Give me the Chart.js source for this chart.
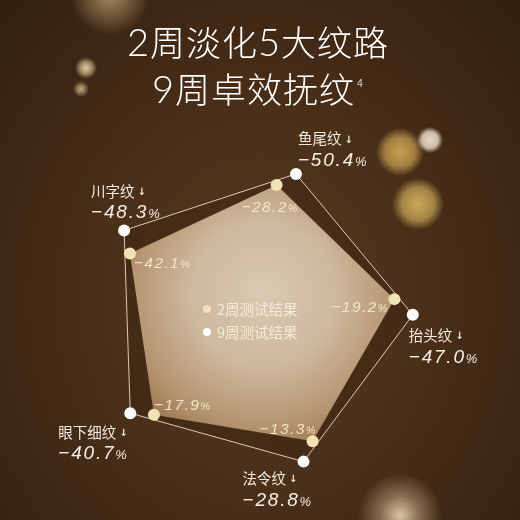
<!DOCTYPE html>
<html>
<head>
<meta charset="utf-8">
<script src="https://cdn.jsdelivr.net/npm/chart.js@4"></script>
<style>
  html, body { margin: 0; padding: 0; }
  #stage {
    position: relative; width: 520px; height: 520px; overflow: hidden;
    background:
      radial-gradient(circle at 110px -5px, rgba(255,225,160,0.55) 0, rgba(255,225,160,0.25) 22px, rgba(255,225,160,0) 40px),
      radial-gradient(circle at 86px 68px, rgba(255,230,185,0.85) 0, rgba(255,230,185,0.5) 6px, rgba(255,230,185,0) 11px),
      radial-gradient(circle at 81px 89px, rgba(255,225,175,0.7) 0, rgba(255,225,175,0.4) 4px, rgba(255,225,175,0) 8px),
      radial-gradient(circle at 430px 140px, rgba(240,225,205,0.95) 0, rgba(240,225,205,0.8) 8px, rgba(240,225,205,0) 13px),
      radial-gradient(circle at 400px 152px, rgba(220,180,90,0.85) 0, rgba(220,180,90,0.6) 15px, rgba(220,180,90,0) 24px),
      radial-gradient(circle at 418px 204px, rgba(225,190,100,0.85) 0, rgba(225,190,100,0.6) 16px, rgba(225,190,100,0) 26px),
      radial-gradient(circle at 400px 515px, rgba(255,235,200,0.8) 0, rgba(255,225,180,0.35) 20px, rgba(255,225,180,0) 42px),
      radial-gradient(ellipse at 260px 300px, #5a3a1f 0, #4a2f19 45%, #3a2413 80%, #32200f 100%);
  }
  canvas { position: absolute; left: 0; top: 0; }
  .title {
    position: absolute; left: 0; width: 516px; text-align: center; color: #fff;
    font-family: "Noto Sans CJK SC", sans-serif; font-weight: 300; font-size: 35px;
    letter-spacing: 1px; line-height: 40px;
  }
  .title .d { font-family: Lato, "Noto Sans CJK SC", sans-serif; font-weight: 300; font-size: 38px; }
  .title sup { font-size: 11px; vertical-align: 16px; margin-left: 2px; }
  .legend {
    position: absolute; left: 203px; color: #f4ead7; font-family: "Noto Sans CJK SC", sans-serif;
    font-size: 14.5px; line-height: 17px;
  }
  .legend i { display: inline-block; width: 8px; height: 8px; border-radius: 50%; margin-right: 6px; vertical-align: 2px; }
</style>
</head>
<body>
<div id="stage">
  <canvas id="nineWeek" width="520" height="520"></canvas>
  <canvas id="twoWeek" width="520" height="520"></canvas>
  <div class="title" style="top:21px"><span class="d">2</span>周淡化<span class="d">5</span>大纹路</div>
  <div class="title" style="top:62px"><span class="d">9</span>周卓效抚纹<sup>4</sup></div>
  <div class="legend" style="top:300px"><i style="background:#f1e2b5"></i>2周测试结果</div>
  <div class="legend" style="top:323px"><i style="background:#ffffff"></i>9周测试结果</div>
</div>
<script>
// 纹路类别（顺时针，从鱼尾纹开始）
const categories = ['鱼尾纹', '抬头纹', '法令纹', '眼下细纹', '川字纹'];
// 图中标注的改善百分比
const week2Drop = [-28.2, -19.2, -13.3, -17.9, -42.1];
const week9Drop = [-50.4, -47.0, -28.8, -40.7, -48.3];
// 雷达图上点的半径位置
const week2Level = [80, 84, 80, 81, 82];
const week9Level = [89, 94, 89, 91, 92];

const chartPadding = { left: 83, top: 149, right: 97, bottom: 31 };

// 标签相对于点的偏移
const nineLabelPos = [
  { dx: 2, dy: -35, align: 'left' },
  { dx: -4, dy: 21, align: 'left' },
  { dx: -61, dy: 17, align: 'left' },
  { dx: -72, dy: 19, align: 'left' },
  { dx: -33, dy: -39, align: 'left' }
];
const twoLabelPos = [
  { dx: 21, dy: 21, align: 'right' },
  { dx: -7, dy: 7, align: 'right' },
  { dx: 3, dy: -13, align: 'right' },
  { dx: 0, dy: -11, align: 'left' },
  { dx: 4, dy: 8, align: 'left' }
];

function drawValue(ctx, v, x, y, align, big, small, spacing, color) {
  const num = '\u2212' + Math.abs(v).toFixed(1);
  ctx.save();
  ctx.fillStyle = color;
  ctx.textBaseline = 'alphabetic';
  ctx.textAlign = 'left';
  const bigFont = 'italic ' + big + 'px "Liberation Sans", sans-serif';
  const smallFont = 'italic ' + small + 'px "Liberation Sans", sans-serif';
  ctx.font = bigFont;
  const chars = num.split('');
  let w = 0;
  chars.forEach(c => { w += ctx.measureText(c).width + spacing; });
  ctx.font = smallFont;
  w += ctx.measureText('%').width;
  let cx = align === 'right' ? x - w : x;
  ctx.font = bigFont;
  chars.forEach(c => { ctx.fillText(c, cx, y); cx += ctx.measureText(c).width + spacing; });
  ctx.font = smallFont;
  ctx.fillText('%', cx, y);
  ctx.restore();
}

const nineLabels = {
  id: 'nineLabels',
  afterDatasetsDraw(chart) {
    const ctx = chart.ctx;
    chart.getDatasetMeta(0).data.forEach((pt, i) => {
      const p = nineLabelPos[i];
      const x = pt.x + p.dx, y = pt.y + p.dy;
      ctx.save();
      ctx.fillStyle = '#f3ece2';
      ctx.font = '14.5px "Noto Sans CJK SC", sans-serif';
      ctx.textBaseline = 'middle';
      ctx.textAlign = 'left';
      ctx.fillText(categories[i], x, y);
      const w = ctx.measureText(categories[i]).width;
      ctx.font = 'bold 10px "DejaVu Sans", sans-serif';
      ctx.fillText('\u2193', x + w + 3, y + 1);
      ctx.restore();
      drawValue(ctx, week9Drop[i], x, y + 27, p.align, 19, 13, 1.8, '#f5efe6');
    });
  }
};

const twoLabels = {
  id: 'twoLabels',
  afterDatasetsDraw(chart) {
    const ctx = chart.ctx;
    chart.getDatasetMeta(0).data.forEach((pt, i) => {
      const p = twoLabelPos[i];
      drawValue(ctx, week2Drop[i], pt.x + p.dx, pt.y + p.dy + 6, p.align, 15.5, 11, 1.4, 'rgba(246,232,198,0.95)');
    });
  }
};

function radarOptions(startAngle) {
  return {
    responsive: false,
    animation: false,
    layout: { padding: chartPadding },
    plugins: { legend: { display: false }, tooltip: { enabled: false } },
    scales: {
      r: {
        min: 0, max: 100, startAngle: startAngle,
        grid: { display: false }, angleLines: { display: false },
        ticks: { display: false }, pointLabels: { display: false }
      }
    }
  };
}

new Chart(document.getElementById('nineWeek'), {
  type: 'radar',
  data: {
    labels: categories,
    datasets: [{
      label: '9周测试结果',
      data: week9Level,
      borderColor: 'rgba(245,230,210,0.85)',
      borderWidth: 1,
      backgroundColor: 'rgba(30,15,5,0.18)',
      fill: true,
      pointRadius: 6,
      pointBackgroundColor: '#fbfbfb',
      pointBorderWidth: 0,
      clip: false
    }]
  },
  options: radarOptions(16.5),
  plugins: [nineLabels]
});

new Chart(document.getElementById('twoWeek'), {
  type: 'radar',
  data: {
    labels: categories,
    datasets: [{
      label: '2周测试结果',
      data: week2Level,
      borderWidth: 0,
      backgroundColor(ctx) {
        const chart = ctx.chart;
        const s = chart.scales.r;
        if (!s || !chart.chartArea) return 'rgba(200,170,135,0.9)';
        const g = chart.ctx.createRadialGradient(s.xCenter + 10, s.yCenter - 25, 0, s.xCenter + 10, s.yCenter - 25, s.drawingArea * 0.95);
        g.addColorStop(0, 'rgb(218,201,180)');
        g.addColorStop(0.45, 'rgb(206,184,158)');
        g.addColorStop(0.8, 'rgb(182,150,114)');
        g.addColorStop(1, 'rgb(158,120,84)');
        return g;
      },
      fill: true,
      pointRadius: 6,
      pointBackgroundColor: '#f2e3b6',
      pointBorderWidth: 0,
      clip: false
    }]
  },
  options: radarOptions(10),
  plugins: [twoLabels]
});
</script>
</body>
</html>
